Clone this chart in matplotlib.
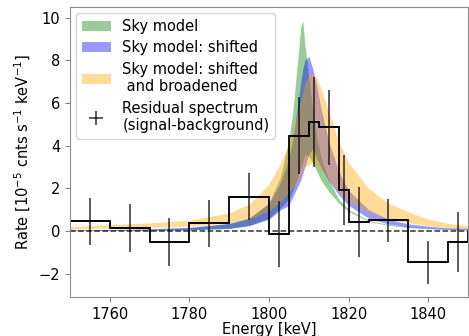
import matplotlib
matplotlib.use('Agg')
import matplotlib.pyplot as plt
import numpy as np

# residual spectrum: bin edges, rates and 1-sigma errors
edges = [1750, 1760, 1770, 1780, 1790, 1800, 1805, 1810, 1812.5, 1817.5,
         1820, 1825, 1835, 1845, 1850]
rate = [0.45, 0.15, -0.52, 0.35, 1.6, -0.15, 4.47, 5.1, 4.86, 1.93,
        0.42, 0.5, -1.47, -0.52]
rate_err = [1.1, 1.13, 1.13, 1.1, 1.1, 1.56, 1.8, 2.1, 1.75, 1.65,
            1.65, 1.0, 1.0, 1.4]

# model bands, sampled on a common energy grid
energy = [1750, 1760, 1770, 1780, 1790, 1795, 1800, 1803, 1805, 1806, 1807,
          1808, 1808.5, 1809, 1810, 1811, 1812, 1813, 1815, 1817.5, 1820,
          1825, 1830, 1835, 1840, 1845, 1850]

sky_hi = [0.03, 0.05, 0.08, 0.15, 0.35, 0.6, 1.3, 2.6, 4.3, 5.6, 7.6,
          9.6, 9.85, 8.8, 7.2, 5.6, 4.4, 3.5, 2.4, 1.5, 1.0,
          0.5, 0.3, 0.2, 0.13, 0.1, 0.08]
sky_lo = [0.01, 0.02, 0.03, 0.05, 0.12, 0.25, 0.6, 1.1, 1.5, 1.9, 2.4,
          3.0, 3.3, 3.6, 3.5, 3.2, 2.8, 2.4, 1.85, 1.3, 0.92,
          0.45, 0.26, 0.16, 0.1, 0.07, 0.05]

shift_hi = [0.05, 0.07, 0.1, 0.17, 0.35, 0.6, 1.3, 2.3, 3.4, 4.3, 5.6,
            7.0, 7.6, 8.0, 8.2, 7.6, 6.8, 5.8, 4.2, 2.8, 1.9,
            1.0, 0.55, 0.33, 0.22, 0.15, 0.12]
shift_lo = [0.01, 0.02, 0.03, 0.05, 0.12, 0.25, 0.55, 1.0, 1.2, 1.6, 2.0,
            2.4, 2.7, 3.0, 3.6, 3.85, 3.4, 3.0, 2.35, 1.7, 1.2,
            0.6, 0.32, 0.18, 0.12, 0.08, 0.06]

broad_hi = [0.2, 0.3, 0.38, 0.5, 0.85, 1.25, 2.2, 3.2, 4.1, 4.7, 5.4,
            6.1, 6.5, 6.9, 7.3, 7.4, 7.2, 6.7, 5.6, 4.2, 3.2,
            2.0, 1.3, 0.9, 0.55, 0.35, 0.25]
broad_lo = [0.09, 0.13, 0.16, 0.22, 0.37, 0.54, 0.95, 1.4, 1.8, 2.0, 2.3,
            2.6, 2.8, 3.0, 3.1, 3.2, 3.1, 2.9, 2.4, 1.8, 1.4,
            0.86, 0.56, 0.39, 0.24, 0.15, 0.11]

fig = plt.figure(figsize=(4.69, 3.36), dpi=100)
ax = fig.add_axes([0.149, 0.116, 0.849, 0.863])

ax.fill_between(energy, sky_lo, sky_hi, color='green', alpha=0.4,
                lw=0, label='Sky model')
ax.fill_between(energy, shift_lo, shift_hi, color='blue', alpha=0.4,
                lw=0, label='Sky model: shifted')
ax.fill_between(energy, broad_lo, broad_hi, color='orange', alpha=0.4,
                lw=0, label='Sky model: shifted\n and broadened')

ax.axhline(0, color='k', ls='--', lw=1.1, alpha=0.8)

edges = np.array(edges)
centers = (edges[:-1] + edges[1:]) / 2
half = (edges[1:] - edges[:-1]) / 2
ax.errorbar(centers, rate, xerr=half, yerr=rate_err, fmt='none',
            ecolor='k', elinewidth=1.2, alpha=0.75,
            label='Residual spectrum\n(signal-background)')
ax.stairs(rate, edges, color='k', lw=1.3)

ax.set_xlim(1750, 1850)
ax.set_ylim(-3.1, 10.5)
ax.set_xticks([1760, 1780, 1800, 1820, 1840])
ax.set_yticks([-2, 0, 2, 4, 6, 8, 10])
ax.set_xlabel('Energy [keV]', fontsize=10.5, labelpad=0)
ax.set_ylabel(r'Rate [$10^{-5}$ cnts s$^{-1}$ keV$^{-1}$]', fontsize=10.5)
ax.tick_params(labelsize=10.5, color='0.5')
for s in ax.spines.values():
    s.set_color('0.55')

ax.legend(loc='upper left', fontsize=10.5, handlelength=2.0,
          borderaxespad=0.4, labelspacing=0.45)

fig.savefig('out.png', dpi=100)
